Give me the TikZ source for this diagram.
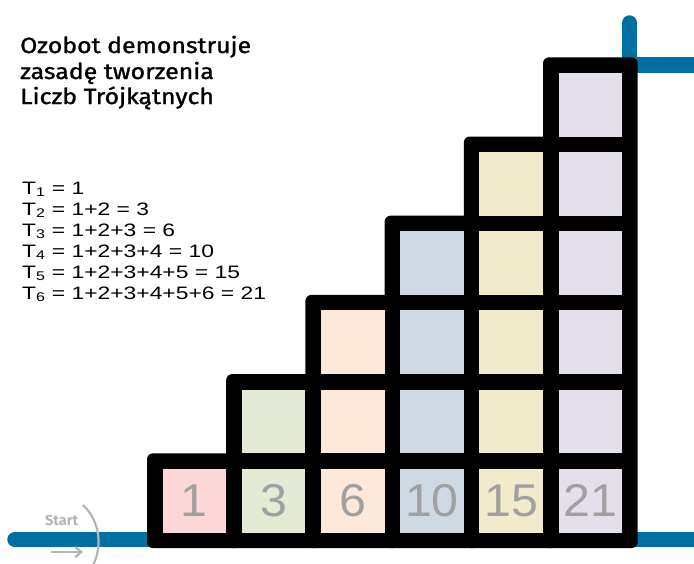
\documentclass[tikz,border=0pt]{standalone}
\usepackage{fontspec}
\setmainfont{Fira Sans}
\newfontfamily\titlefont[FakeStretch=1.13,FakeBold=1.3]{Fira Sans}
\newfontfamily\formfont[FakeStretch=1.27]{Liberation Sans}
\newfontfamily\numfont[FakeStretch=1.05]{Liberation Sans}
\newfontfamily\startfont{Fira Sans}
\usetikzlibrary{arrows.meta}
\definecolor{track}{HTML}{0070A3}
\definecolor{cA}{HTML}{FDD7D7}
\definecolor{cB}{HTML}{E3EBD5}
\definecolor{cC}{HTML}{FCE9D9}
\definecolor{cD}{HTML}{CFD9E4}
\definecolor{cE}{HTML}{F1EACB}
\definecolor{cF}{HTML}{E4DFEB}
\definecolor{numgray}{HTML}{A0A0A0}
\definecolor{startgray}{HTML}{B4B4B4}
\tikzset{
  trackline/.style={draw=track, line width=15.5pt},
  cell/.style={minimum width=63.7pt, minimum height=63.7pt, inner sep=0pt, outer sep=0pt},
  numtext/.style={text=numgray, font=\numfont\fontsize{46}{46}\selectfont},
  titletext/.style={anchor=base west, inner sep=0pt, font=\titlefont\fontsize{22}{25}\selectfont},
  formtext/.style={anchor=base west, inner sep=0pt, font=\formfont\fontsize{18}{21}\selectfont},
  startmark/.style={draw=startgray, line width=2.2pt},
}
\begin{document}
\begin{tikzpicture}[x=1pt,y=-1pt]
\useasboundingbox[fill=white] (0,0) rectangle (694,563);
% track
\coordinate (tl) at (15,539.5);
\coordinate (tr) at (710,539.5);
\draw[trackline, line cap=round] (tl) -- (tr);
\coordinate (vt) at (629.5,23);
\coordinate (vb) at (629.5,90);
\draw[trackline, line cap=round] (vt) -- (vb);
\coordinate (hl) at (629.5,65);
\coordinate (hr) at (710,65);
\draw[trackline, line width=16pt] (hl) -- (hr);
% black staircase
\foreach \i in {1,...,6} {
  \fill[black, rounded corners=6pt] ({147+(\i-1)*79.2},548) rectangle ++(94.7,{-(\i*79.2+15.5)});
}
% cells
\foreach \i/\col/\val in {1/cA/1,2/cB/3,3/cC/6,4/cD/10,5/cE/15,6/cF/21} {
  \foreach \j in {1,...,\i} {
    \node[cell, fill=\col] (c-\i-\j) at ({194.35+(\i-1)*79.2},{500.65-(\j-1)*79.2}) {};
  }
  \node[numtext] (n-\i) at (c-\i-1) {\val};
}
% title
\node[titletext] (t1) at (20,53) {Ozobot demonstruje};
\node[titletext] (t2) at (20,79) {zasadę tworzenia};
\node[titletext] (t3) at (20,104) {Liczb Trójkątnych};
% formulas
\node[formtext] (f1) at (22,194) {T\textsubscript{1} = 1};
\node[formtext] (f2) at (22,215) {T\textsubscript{2} = 1+2 = 3};
\node[formtext] (f3) at (22,236) {T\textsubscript{3} = 1+2+3 = 6};
\node[formtext] (f4) at (22,257) {T\textsubscript{4} = 1+2+3+4 = 10};
\node[formtext] (f5) at (22,278) {T\textsubscript{5} = 1+2+3+4+5 = 15};
\node[formtext] (f6) at (22,299) {T\textsubscript{6} = 1+2+3+4+5+6 = 21};
% start marker
\node[anchor=base west, inner sep=0pt, text=startgray, font=\startfont\bfseries\fontsize{14.5}{14.5}\selectfont] (st) at (45,525) {Start};
\coordinate (a1) at (83,505);
\coordinate (a2) at (93,565);
\draw[startmark] (a1) .. controls (101,522) and (102,548) .. (a2);
\coordinate (r1) at (51,552);
\coordinate (r2) at (83,552);
\draw[startmark, -{Straight Barb[length=6pt,width=10pt]}] (r1) -- (r2);
\end{tikzpicture}
\end{document}
